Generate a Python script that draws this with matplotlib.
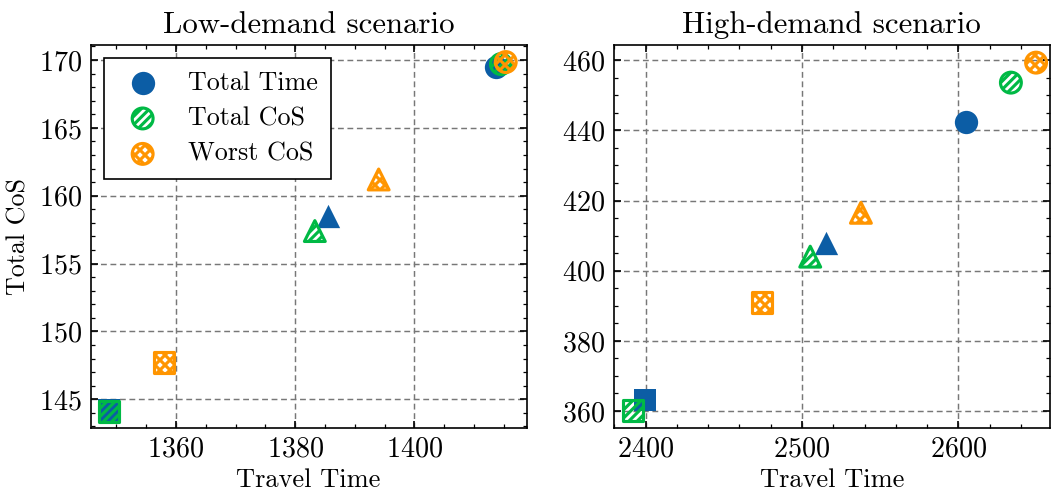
import matplotlib
matplotlib.use("Agg")
import matplotlib.pyplot as plt

# objectives (legend) and colours
objectives = ["Total Time", "Total CoS", "Worst CoS"]
colors = ["#0C5DA5", "#00B945", "#FF9500"]
hatches = [None, "//////", "xxxxx"]
methods_markers = ["o", "^", "s"]

# low-demand scenario: [objective][method] -> (travel time, total CoS)
low_time = [
    [1413.7, 1385.5, 1348.8],
    [1414.5, 1383.3, 1348.8],
    [1415.3, 1394.0, 1358.0],
]
low_cos = [
    [169.5, 158.5, 144.2],
    [169.7, 157.4, 144.1],
    [169.85, 161.2, 147.7],
]

# high-demand scenario
high_time = [
    [2605.2, 2515.2, 2399.4],
    [2633.6, 2505.3, 2392.1],
    [2649.7, 2537.7, 2474.4],
]
high_cos = [
    [442.4, 407.8, 363.2],
    [453.6, 404.0, 360.1],
    [459.3, 416.5, 390.9],
]

plt.rcParams.update({
    "font.family": "serif",
    "font.serif": ["cmr10", "DejaVu Serif"],
    "mathtext.fontset": "cm",
    "axes.formatter.use_mathtext": True,
    "axes.unicode_minus": False,
    "font.size": 13.5,
    "xtick.labelsize": 13.5,
    "ytick.labelsize": 13.5,
    "xtick.direction": "in",
    "ytick.direction": "in",
    "xtick.top": True,
    "ytick.right": True,
    "xtick.minor.visible": True,
    "ytick.minor.visible": True,
    "xtick.major.size": 3.5,
    "ytick.major.size": 3.5,
    "xtick.minor.size": 2,
    "ytick.minor.size": 2,
    "axes.linewidth": 0.8,
    "hatch.linewidth": 1.5,
})

fig, axes = plt.subplots(1, 2, figsize=(7.02, 3.34), dpi=150)
fig.subplots_adjust(left=0.086, right=0.997, top=0.91, bottom=0.146, wspace=0.2)


def draw(ax, xs, ys, title):
    for i, name in enumerate(objectives):
        for j, mk in enumerate(methods_markers):
            size = 125 if mk != "s" else 120
            if hatches[i] is None:
                ax.scatter(xs[i][j], ys[i][j], s=size, marker=mk, color=colors[i],
                           linewidths=0, zorder=3 + i,
                           label=name if j == 0 else None)
            else:
                ax.scatter(xs[i][j], ys[i][j], s=size * 0.8, marker=mk,
                           facecolors="none", edgecolors=colors[i],
                           hatch=hatches[i], linewidths=1.5, zorder=3 + i,
                           label=name if j == 0 else None)
    ax.set_title(title, fontsize=14.8)
    ax.set_xlabel("Travel Time", fontsize=12.7, labelpad=3)
    ax.grid(True, color="#777777", linestyle=(0, (4, 2.5)), linewidth=0.7)
    ax.set_axisbelow(True)
    ax.tick_params(which="major", pad=4)


draw(axes[0], low_time, low_cos, "Low-demand scenario")
draw(axes[1], high_time, high_cos, "High-demand scenario")

axes[0].set_ylabel("Total CoS", fontsize=12.5)
axes[0].set_xlim(1345.7, 1418.8)
axes[0].set_ylim(142.9, 171.1)
axes[0].set_xticks([1360, 1380, 1400])
axes[0].set_yticks([145, 150, 155, 160, 165, 170])

axes[1].set_xlim(2379.7, 2658.5)
axes[1].set_ylim(355.2, 464.3)
axes[1].set_xticks([2400, 2500, 2600])
axes[1].set_yticks([360, 380, 400, 420, 440, 460])

leg = axes[0].legend(loc="upper left", fancybox=False, framealpha=1,
                     edgecolor="black", fontsize=12.5, borderpad=0.5,
                     handletextpad=0.75, labelspacing=0.45)
leg.get_frame().set_linewidth(0.8)

fig.savefig("out.png", dpi=150)
